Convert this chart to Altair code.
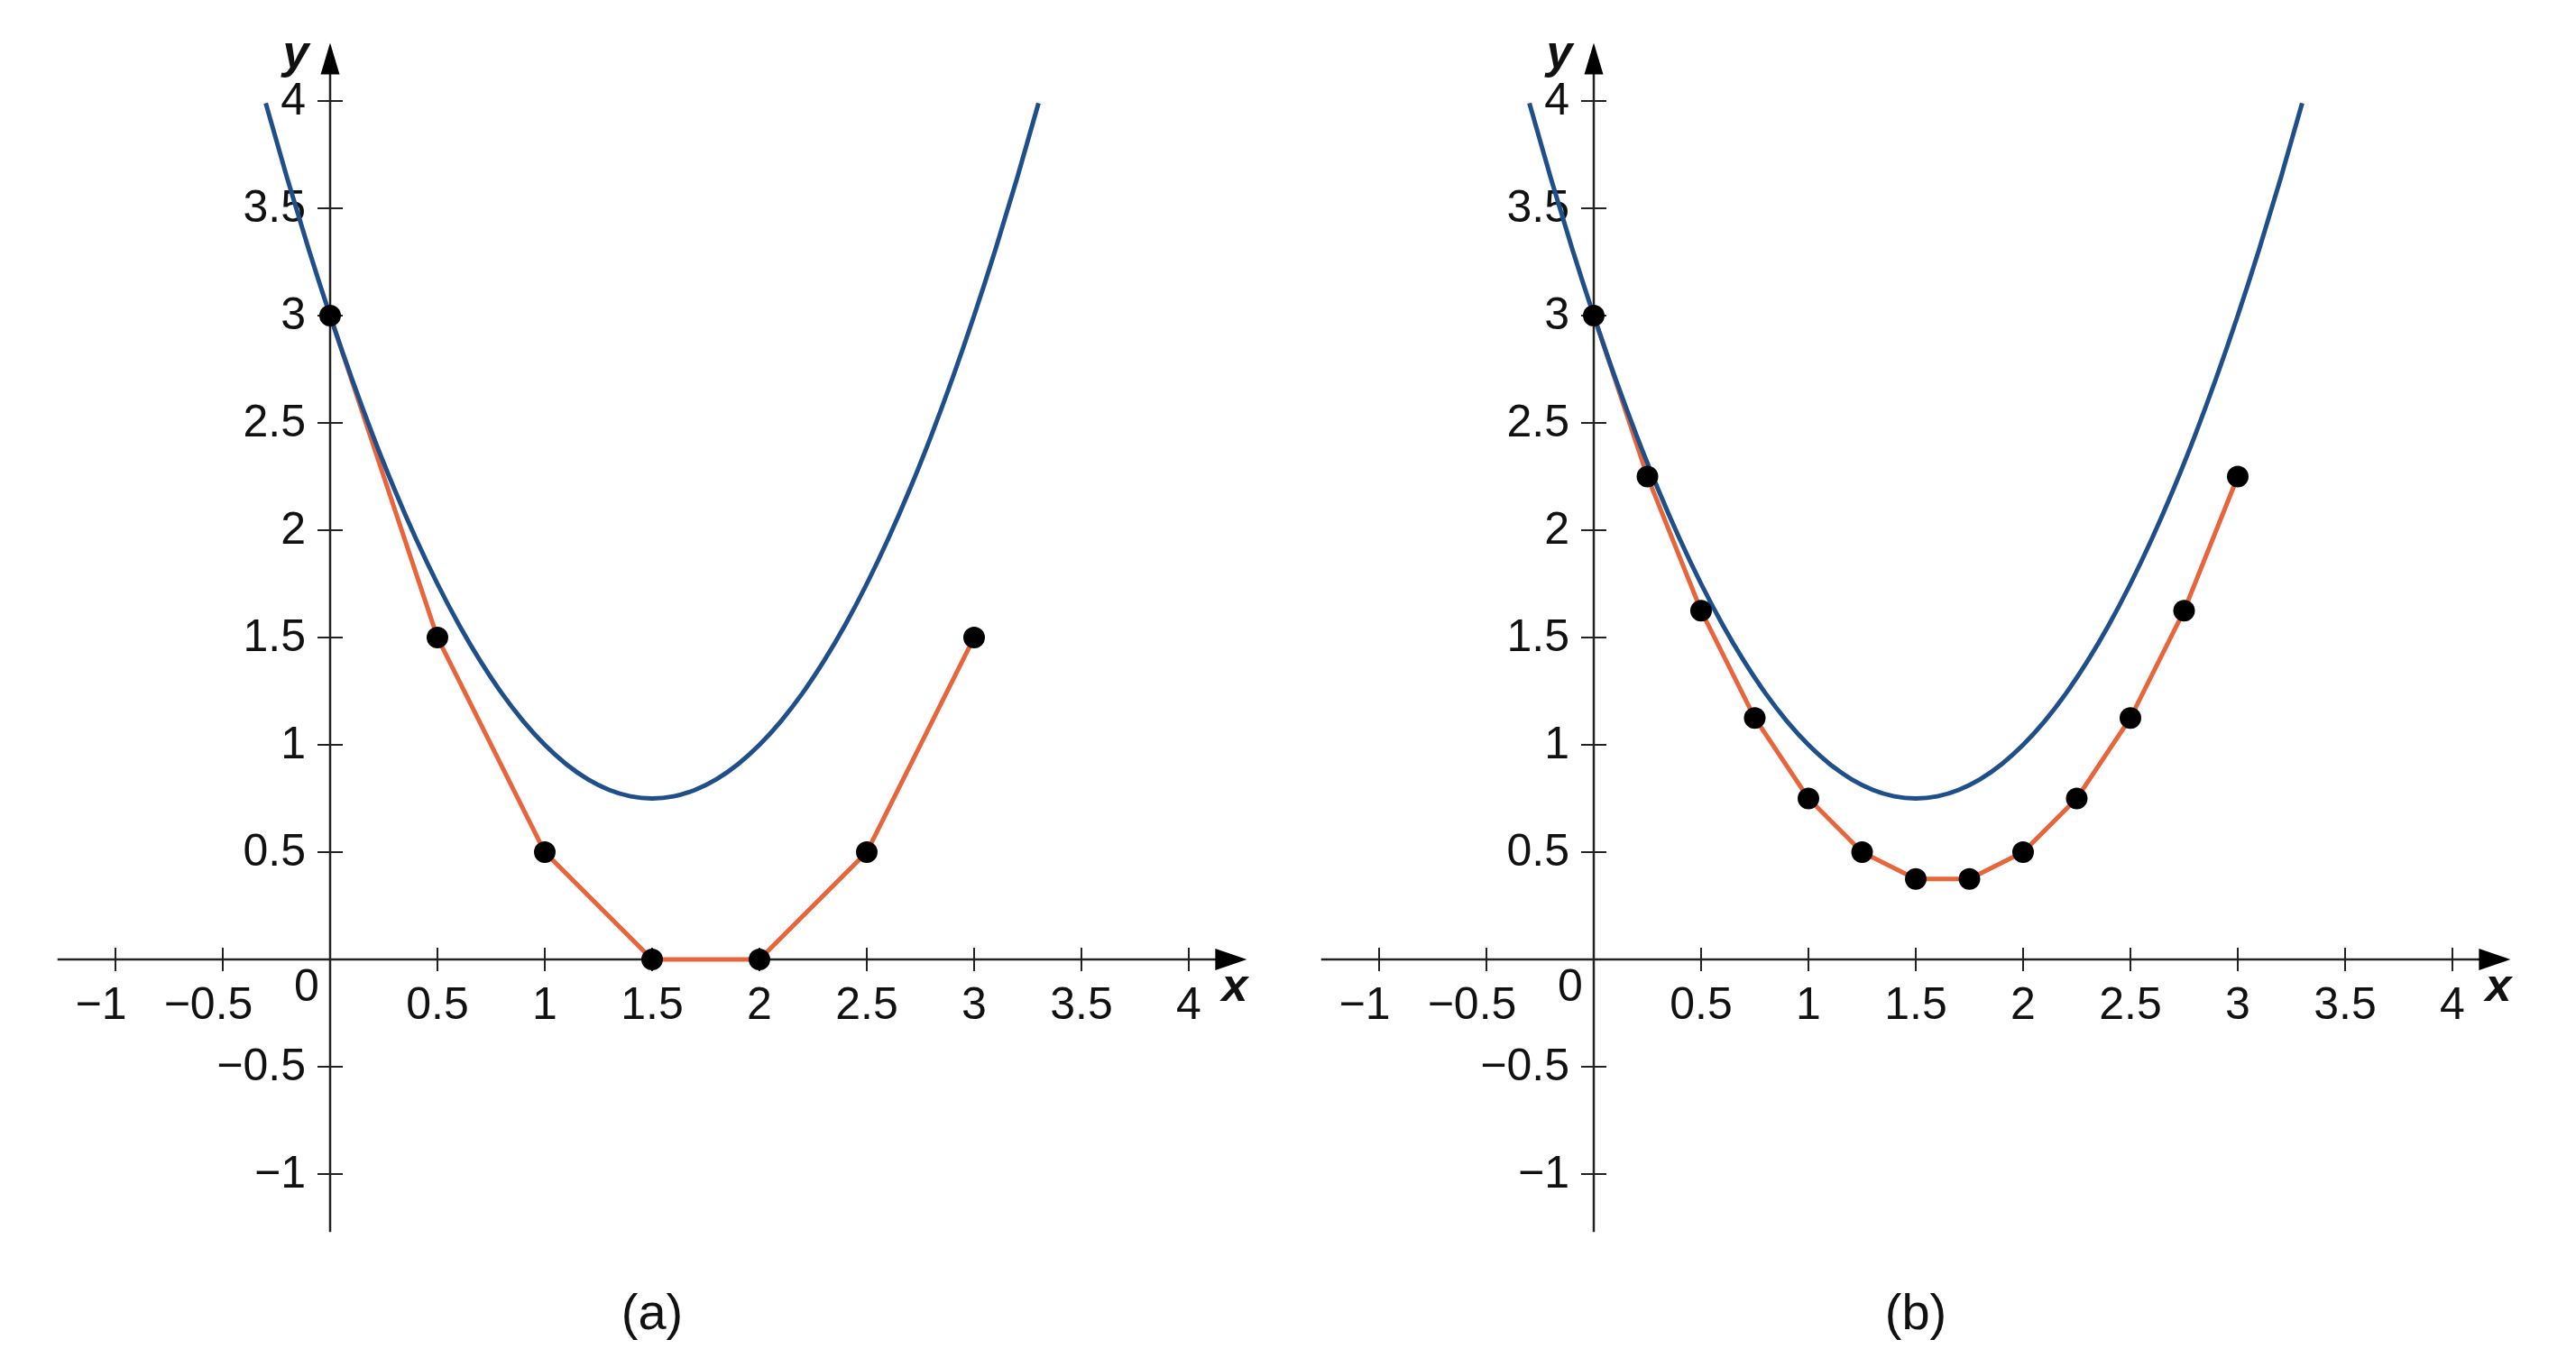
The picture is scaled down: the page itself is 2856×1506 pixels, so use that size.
import altair as alt
import pandas as pd

# ---- data ----
curve_x = [-0.3, -0.2, -0.1, 0.0, 0.1, 0.2, 0.3, 0.4, 0.5, 0.6, 0.7, 0.8, 0.9, 1.0,
           1.1, 1.2, 1.3, 1.4, 1.5, 1.6, 1.7, 1.8, 1.9, 2.0, 2.1, 2.2, 2.3, 2.4,
           2.5, 2.6, 2.7, 2.8, 2.9, 3.0, 3.1, 3.2, 3.3]
curve_y = [3.99, 3.64, 3.31, 3.00, 2.71, 2.44, 2.19, 1.96, 1.75, 1.56, 1.39, 1.24, 1.11, 1.00,
           0.91, 0.84, 0.79, 0.76, 0.75, 0.76, 0.79, 0.84, 0.91, 1.00, 1.11, 1.24, 1.39, 1.56,
           1.75, 1.96, 2.19, 2.44, 2.71, 3.00, 3.31, 3.64, 3.99]

euler_a_x = [0, 0.5, 1, 1.5, 2, 2.5, 3]
euler_a_y = [3, 1.5, 0.5, 0, 0, 0.5, 1.5]
euler_b_x = [0, 0.25, 0.5, 0.75, 1, 1.25, 1.5, 1.75, 2, 2.25, 2.5, 2.75, 3]
euler_b_y = [3, 2.25, 1.625, 1.125, 0.75, 0.5, 0.375, 0.375, 0.5, 0.75, 1.125, 1.625, 2.25]

x_ticks = [-1, -0.5, 0.5, 1, 1.5, 2, 2.5, 3, 3.5, 4]
x_tick_labels = ["\u22121", "\u22120.5", "0.5", "1", "1.5", "2", "2.5", "3", "3.5", "4"]
y_ticks = [-1, -0.5, 0.5, 1, 1.5, 2, 2.5, 3, 3.5, 4]
y_tick_labels = ["\u22121", "\u22120.5", "0.5", "1", "1.5", "2", "2.5", "3", "3.5", "4"]
panel_labels = ["(a)", "(b)"]

# axis geometry (data units)
X_DOMAIN = [-1.5042, 4.3824]
Y_DOMAIN = [-1.8235, 4.437]
AXIS_MIN = -1.27
AXIS_MAX = 4.15
ARROW_POS = 4.197
CAPTION_POS = [1.5, -1.65]

BLUE = "#1f4f8b"
ORANGE = "#e8643a"
AXIS_COLOR = "#222222"
FONT = "Liberation Sans"

PANEL_W = 1401
PANEL_H = 1490


def X(field):
    return alt.X(field, type="quantitative",
                 scale=alt.Scale(domain=X_DOMAIN, nice=False, zero=False), axis=None)


def Y(field):
    return alt.Y(field, type="quantitative",
                 scale=alt.Scale(domain=Y_DOMAIN, nice=False, zero=False), axis=None)


def panel(ex, ey, caption):
    zero_df = pd.DataFrame({"a": [AXIS_MIN], "b": [AXIS_MAX], "z": [0.0]})
    xaxis = alt.Chart(zero_df).mark_rule(color=AXIS_COLOR, strokeWidth=2.5).encode(
        x=X("a"), x2="b", y=Y("z"))
    yaxis = alt.Chart(zero_df).mark_rule(color=AXIS_COLOR, strokeWidth=2.5).encode(
        y=Y("a"), y2="b", x=X("z"))

    xt = pd.DataFrame({"v": x_ticks, "lab": x_tick_labels, "z": [0.0] * len(x_ticks)})
    yt = pd.DataFrame({"v": y_ticks, "lab": y_tick_labels, "z": [0.0] * len(y_ticks)})
    xt_neg = xt[xt["v"] < 0]
    xt_pos = xt[xt["v"] > 0]

    xticks = alt.Chart(xt).mark_rule(color=AXIS_COLOR, strokeWidth=2,
                                      yOffset=-13, y2Offset=13).encode(
        x=X("v"), y=Y("z"), y2="z")
    yticks = alt.Chart(yt).mark_rule(color=AXIS_COLOR, strokeWidth=2,
                                      xOffset=-14, x2Offset=14).encode(
        y=Y("v"), x=X("z"), x2="z")

    xlabels_pos = alt.Chart(xt_pos).mark_text(font=FONT, fontSize=50, color="#111",
                                              align="center", baseline="middle", dy=51).encode(
        x=X("v"), y=Y("z"), text="lab:N")
    xlabels_neg = alt.Chart(xt_neg).mark_text(font=FONT, fontSize=50, color="#111",
                                              align="center", baseline="middle", dy=51,
                                              dx=-16).encode(
        x=X("v"), y=Y("z"), text="lab:N")
    ylabels = alt.Chart(yt).mark_text(font=FONT, fontSize=50, color="#111",
                                      align="right", baseline="middle", dx=-27).encode(
        y=Y("v"), x=X("z"), text="lab:N")

    origin = alt.Chart(pd.DataFrame({"z": [0.0], "lab": ["0"]})).mark_text(
        font=FONT, fontSize=50, color="#111", align="center", baseline="middle",
        dx=-26, dy=31).encode(x=X("z"), y=Y("z"), text="lab:N")

    xarrow = alt.Chart(pd.DataFrame({"p": [ARROW_POS], "z": [0.0]})).mark_point(
        shape="M1,0L-1,-0.69L-1,0.69Z", size=1225, filled=True, fill="black",
        stroke=None, opacity=1).encode(x=X("p"), y=Y("z"))
    yarrow = alt.Chart(pd.DataFrame({"p": [ARROW_POS], "z": [0.0]})).mark_point(
        shape="M0,-1L0.6,1L-0.6,1Z", size=1225, filled=True, fill="black",
        stroke=None, opacity=1).encode(y=Y("p"), x=X("z"))

    xname = alt.Chart(pd.DataFrame({"p": [ARROW_POS], "z": [0.0], "lab": ["x"]})).mark_text(
        font=FONT, fontSize=52, fontWeight="bold", fontStyle="italic", color="#111",
        align="center", baseline="middle", dx=4, dy=30).encode(
        x=X("p"), y=Y("z"), text="lab:N")
    yname = alt.Chart(pd.DataFrame({"p": [ARROW_POS], "z": [0.0], "lab": ["y"]})).mark_text(
        font=FONT, fontSize=52, fontWeight="bold", fontStyle="italic", color="#111",
        align="center", baseline="middle", dx=-38, dy=-6).encode(
        y=Y("p"), x=X("z"), text="lab:N")

    edf = pd.DataFrame({"x": ex, "y": ey})
    eline = alt.Chart(edf).mark_line(color=ORANGE, strokeWidth=5).encode(
        x=X("x"), y=Y("y"), order="x:Q")
    cdf = pd.DataFrame({"x": curve_x, "y": curve_y})
    cline = alt.Chart(cdf).mark_line(color=BLUE, strokeWidth=5,
                                     interpolate="monotone").encode(
        x=X("x"), y=Y("y"), order="x:Q")
    dots = alt.Chart(edf).mark_circle(size=573, color="black", opacity=1).encode(
        x=X("x"), y=Y("y"))

    cap = alt.Chart(pd.DataFrame({"x": [CAPTION_POS[0]], "y": [CAPTION_POS[1]],
                                  "lab": [caption]})).mark_text(
        font=FONT, fontSize=56, color="#111", align="center", baseline="middle").encode(
        x=X("x"), y=Y("y"), text="lab:N")

    return alt.layer(xaxis, yaxis, xticks, yticks, xlabels_pos, xlabels_neg, ylabels,
                     origin, xarrow, yarrow, xname, yname, eline, cline, dots, cap).properties(
        width=PANEL_W, height=PANEL_H)


chart = alt.hconcat(panel(euler_a_x, euler_a_y, panel_labels[0]),
                    panel(euler_b_x, euler_b_y, panel_labels[1]),
                    spacing=0).properties(padding=0).configure_view(stroke=None)

chart.save("out.html", embed_options={"renderer": "svg", "actions": False})
